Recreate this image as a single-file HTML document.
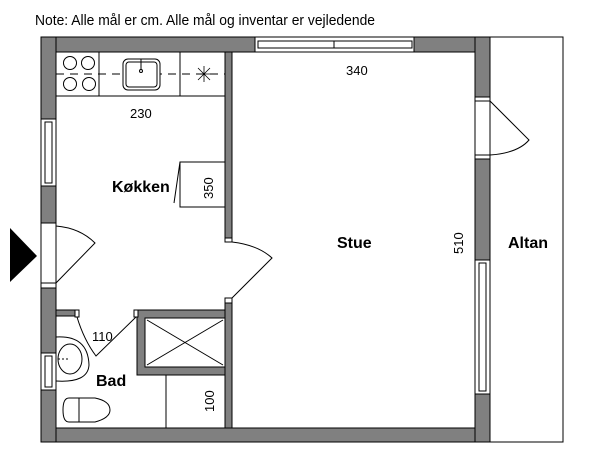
<!DOCTYPE html>
<html><head><meta charset="utf-8"><style>
html,body{margin:0;padding:0;background:#fff;width:600px;height:450px;overflow:hidden}
svg{display:block}
text{font-family:"Liberation Sans",sans-serif;fill:#000}
</style></head><body>
<svg width="600" height="450" viewBox="0 0 600 450" xmlns="http://www.w3.org/2000/svg">
<text x="35" y="25" font-size="15" textLength="340" lengthAdjust="spacingAndGlyphs">Note: Alle mål er cm. Alle mål og inventar er vejledende</text>
<!-- Altan -->
<rect x="490" y="37" width="73" height="405" fill="#fff" stroke="#000" stroke-width="1"/>
<g fill="#808080" stroke="#000" stroke-width="1">
<!-- top wall -->
<rect x="41" y="37" width="214" height="15"/>
<rect x="414" y="37" width="76" height="15"/>
<!-- bottom wall -->
<rect x="41" y="428" width="449" height="14"/>
<!-- left wall -->
<rect x="41" y="37" width="15" height="82"/>
<rect x="41" y="186" width="15" height="37"/>
<rect x="41" y="288" width="15" height="65"/>
<rect x="41" y="390" width="15" height="52"/>
<!-- right wall -->
<rect x="475" y="37" width="15" height="60"/>
<rect x="475" y="159" width="15" height="101"/>
<rect x="475" y="394" width="15" height="48"/>
<!-- kitchen/stue wall -->
<rect x="225" y="52" width="7" height="186"/>
<rect x="225" y="302" width="7" height="126"/>
<!-- bath horizontal wall -->
<rect x="56" y="310" width="21" height="6"/>
<!-- shower walls -->
<path d="M137 310H225V375H137Z M145 318V367H225V318Z" fill-rule="evenodd"/>
</g>
<!-- windows -->
<g fill="#fff" stroke="#000" stroke-width="1">
<rect x="255" y="37" width="159" height="15"/>
<rect x="258" y="41" width="154" height="7"/>
<line x1="334" y1="41" x2="334" y2="48"/>
<rect x="41" y="119" width="15" height="67"/>
<rect x="45" y="122" width="7" height="61"/>
<rect x="41" y="353" width="15" height="37"/>
<rect x="45" y="356" width="7" height="31"/>
<rect x="475" y="260" width="15" height="134"/>
<rect x="479" y="263" width="7" height="128"/>
<!-- door frames -->
<rect x="41" y="223" width="15" height="65" fill="#fff"/>
<rect x="475" y="97" width="15" height="62" fill="#fff"/>
<rect x="41" y="283" width="15" height="5"/>
<rect x="475" y="97" width="15" height="4"/>
<rect x="475" y="155" width="15" height="4"/>
<rect x="225" y="238" width="7" height="4"/>
<rect x="225" y="298" width="7" height="5"/>
<rect x="75" y="310" width="4" height="7"/>
<rect x="134" y="310" width="4" height="7"/>
</g>
<g fill="none" stroke="#000" stroke-width="1">
<!-- door swings -->
<path d="M56 226Q80 228 95 243L56 283"/>
<path d="M232 242Q258 245 272 258L232 298"/>
<path d="M77 317Q84 340 96 356L136 317"/>
<path d="M490 101L529 140Q518 153 490 155"/>
<!-- kitchen counter -->
<rect x="56" y="52" width="169" height="44"/>
<line x1="99" y1="52" x2="99" y2="96"/>
<line x1="180" y1="52" x2="180" y2="96"/>
<path d="M56 74H225" stroke-dasharray="8,6"/>
<circle cx="70" cy="63" r="6.5" fill="#fff"/><circle cx="88" cy="63" r="6.5" fill="#fff"/>
<circle cx="70" cy="84" r="6.5" fill="#fff"/><circle cx="89" cy="84" r="6.5" fill="#fff"/>
<rect x="123" y="59" width="37" height="31" rx="5" fill="#fff"/>
<rect x="126" y="62" width="31" height="25" rx="3"/>
<line x1="141" y1="59" x2="141" y2="70"/><circle cx="141" cy="71" r="1.5"/>
<path d="M196 74H212M204 66V82M198 68L210 80M210 68L198 80" stroke-width="0.8"/>
<!-- fridge -->
<rect x="180" y="162" width="45" height="45"/>
<line x1="180" y1="162" x2="174" y2="203"/>
<!-- shower cross -->
<path d="M147 320L223 365M223 320L147 365"/>
<!-- bath -->
<line x1="166" y1="375" x2="166" y2="428"/>
<path d="M56 337Q88 335 89 365Q88 383 56 381"/>
<ellipse cx="70" cy="359" rx="12" ry="15"/>
<line x1="58" y1="359" x2="70" y2="359" stroke-dasharray="2,2"/>
<path d="M69 398Q63 398 63 410Q63 422 69 422H95Q110 418 110 410Q110 401 95 398Z"/>
<line x1="79" y1="398" x2="79" y2="422"/>
</g>
<!-- entrance arrow -->
<polygon points="10,228 37,256 10,282" fill="#000"/>
<!-- labels -->
<text x="130" y="118" font-size="13">230</text>
<text x="346" y="75" font-size="13">340</text>
<text x="112" y="192" font-size="16" font-weight="bold">Køkken</text>
<text font-size="13" transform="translate(213,199) rotate(-90)">350</text>
<text x="337" y="248" font-size="16" font-weight="bold">Stue</text>
<text font-size="13" transform="translate(463,254) rotate(-90)">510</text>
<text x="508" y="248" font-size="16" font-weight="bold">Altan</text>
<text x="92" y="341" font-size="13">110</text>
<text x="96" y="386" font-size="16" font-weight="bold">Bad</text>
<text font-size="13" transform="translate(214,412) rotate(-90)">100</text>
</svg>
</body></html>
